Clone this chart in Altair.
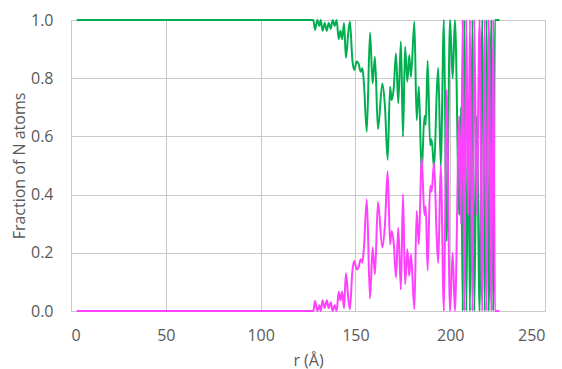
import altair as alt
import pandas as pd

# radial distance r (Å)
r_values = [3, 127.8, 128.7, 129.9, 131.0, 131.7, 132.7, 133.8, 134.9, 135.9, 137.0,
            138.0, 139.1, 140.1, 141.2, 142.1, 143.0, 144.0, 145.0, 146.3, 147.1,
            148.4, 149.4, 150.7, 151.7, 152.8, 153.7, 154.5, 156.0, 157.7, 159.1,
            160.3, 161.9, 164.2, 165.6, 167.0, 168.3, 169.1, 170.2, 171.4, 172.6,
            174.0, 175.1, 176.2, 177.4, 178.4, 179.3, 181.1, 182.3, 183.5, 184.9,
            186.4, 187.1, 188.1, 189.4, 190.2, 191.5, 192.9, 193.7, 195.0, 196.7,
            198.1, 199.9, 201.3, 202.5, 204.8, 205.7, 206.6, 207.4, 208.5, 209.5,
            210.4, 211.7, 212.7, 214.0, 215.5, 216.9, 218.2, 219.2, 220.3, 221.7,
            222.7, 223.6, 226.0]

# fraction of N atoms, green series
green_values = [1.0, 1.0, 0.966, 1.0, 0.98, 1.0, 0.963, 0.99, 0.963, 0.99, 0.97,
                1.0, 0.98, 1.0, 0.934, 0.963, 0.934, 0.99, 0.87, 0.96, 0.994,
                0.863, 0.828, 0.857, 0.849, 0.822, 0.834, 0.782, 0.616, 0.957, 0.782,
                0.874, 0.625, 0.782, 0.702, 0.52, 0.771, 0.725, 0.765, 0.885, 0.714,
                0.926, 0.599, 0.908, 0.788, 0.88, 0.805, 0.994, 0.656, 0.771, 0.47,
                0.67, 0.64, 0.86, 0.57, 0.59, 0.49, 0.75, 0.835, 0.5, 1.0,
                0.24, 1.0, 0.8, 1.0, 0.33, 0.7, 0.0, 1.0, 0.0, 0.67,
                0.0, 1.0, 0.0, 0.67, 0.0, 1.0, 0.0, 1.0, 0.0, 1.0,
                0.0, 1.0, 1.0]

# fraction of N atoms, magenta series
magenta_values = [0.0, 0.0, 0.034, 0.0, 0.02, 0.0, 0.037, 0.01, 0.037, 0.01, 0.03,
                  0.0, 0.02, 0.0, 0.066, 0.037, 0.066, 0.01, 0.13, 0.04, 0.006,
                  0.137, 0.172, 0.143, 0.151, 0.178, 0.166, 0.218, 0.384, 0.043, 0.218,
                  0.126, 0.375, 0.218, 0.298, 0.48, 0.229, 0.275, 0.235, 0.115, 0.286,
                  0.074, 0.401, 0.092, 0.212, 0.12, 0.195, 0.006, 0.344, 0.229, 0.53,
                  0.33, 0.36, 0.14, 0.43, 0.41, 0.51, 0.25, 0.165, 0.5, 0.0,
                  0.76, 0.0, 0.2, 0.0, 0.67, 0.3, 1.0, 0.0, 1.0, 0.33,
                  1.0, 0.0, 1.0, 0.33, 1.0, 0.0, 1.0, 0.0, 1.0, 0.0,
                  1.0, 0.0, 0.0]

x_ticks = [0, 50, 100, 150, 200, 250]
y_ticks = [0.0, 0.2, 0.4, 0.6, 0.8, 1.0]

rows = []
for i, r in enumerate(r_values):
    rows.append({"r": r, "frac": green_values[i], "series": "green", "order": i})
for i, r in enumerate(r_values):
    rows.append({"r": r, "frac": magenta_values[i], "series": "magenta", "order": i})
df = pd.DataFrame(rows)

FONT = "Open Sans"
TXT = "#595959"
GRID = "#C9C9C9"

x_enc = alt.X("r:Q", scale=alt.Scale(domain=[0, 250], nice=False),
              axis=alt.Axis(values=x_ticks, title="r (Å)", grid=True, gridColor=GRID,
                            domainColor=GRID, ticks=False, tickSize=0, labelPadding=16,
                            labelFontSize=16, labelColor=TXT, labelFont=FONT,
                            titleFont=FONT, titleFontSize=16, titleColor=TXT,
                            titleFontWeight="normal", titlePadding=9))
y_enc = alt.Y("frac:Q", scale=alt.Scale(domain=[0, 1], nice=False),
              axis=alt.Axis(values=y_ticks, format=".1f", title="Fraction of N atoms",
                            grid=True, gridColor=GRID, domainColor=GRID, ticks=False,
                            tickSize=0, labelPadding=18, labelFontSize=16, labelColor=TXT,
                            labelFont=FONT, titleFont=FONT, titleFontSize=16,
                            titleColor=TXT, titleFontWeight="normal", titlePadding=3))

green_line = alt.Chart(df[df.series == "green"]).mark_line(
    color="#00B050", strokeWidth=2, interpolate="monotone"
).encode(x=x_enc, y=y_enc, order="order:Q")

magenta_line = alt.Chart(df[df.series == "magenta"]).mark_line(
    color="#FF40FF", strokeWidth=2, interpolate="monotone"
).encode(x="r:Q", y="frac:Q", order="order:Q")

chart = alt.layer(green_line, magenta_line).properties(
    width=474, height=291,
    autosize=alt.AutoSizeParams(type="none"),
    padding={"left": 63, "top": 12, "right": 9, "bottom": 58},
).configure_view(stroke=None).configure_axis(gridWidth=1, domainWidth=1)

chart.save("out.html", embed_options={"renderer": "svg", "actions": False})
